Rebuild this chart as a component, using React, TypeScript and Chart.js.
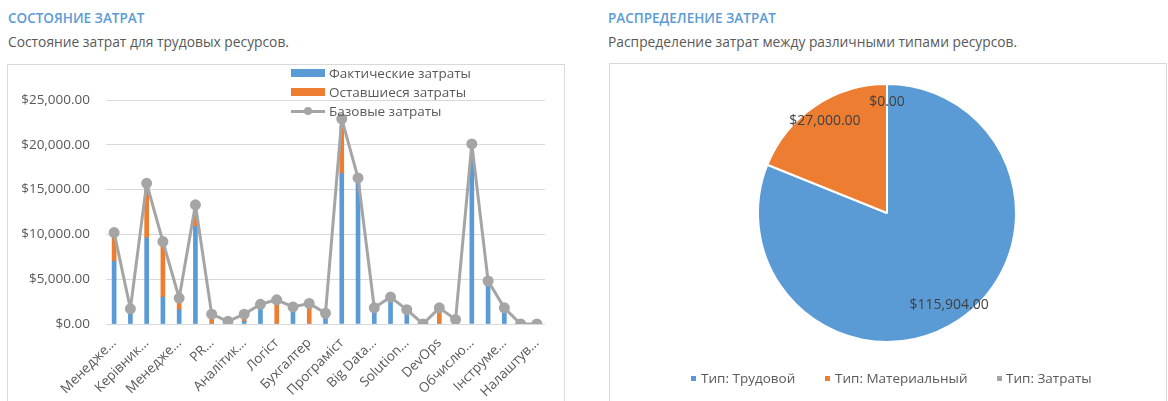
import React, { useEffect, useRef } from "react";
import { Chart, registerables } from "chart.js";

Chart.register(...registerables);

// ---------- data ----------
const categories = [
  "Менеджер проєкту", "Архітектор", "Керівник команди", "Тестувальник", "Менеджер продукту",
  "Дизайнер", "PR-менеджер", "Маркетолог", "Аналітик даних", "Юрист", "Логіст", "Рекрутер",
  "Бухгалтер", "Адміністратор", "Програміст", "Розробник", "Big Data інженер", "QA інженер",
  "Solution архітектор", "Системний адміністратор", "DevOps", "Технічний письменник",
  "Обчислювальні ресурси", "Сервери", "Інструменти", "Ліцензії", "Налаштування",
];
const tickLabels = [
  "Менедже...", "", "Керівник...", "", "Менедже...", "", "PR...", "", "Аналітик...", "",
  "Логіст", "", "Бухгалтер", "", "Програміст", "", "Big Data...", "", "Solution...", "",
  "DevOps", "", "Обчислю...", "", "Інструме...", "", "Налаштув...",
];
const actualCosts = [
  7000, 1600, 9600, 3000, 1600, 10900, 0, 0, 300, 1800, 0, 1500, 0, 800,
  16800, 16000, 1500, 2600, 1100, 0, 0, 0, 18500, 4500, 1500, 0, 0,
];
const remainingCosts = [
  3000, 0, 5800, 6000, 1100, 2200, 800, 0, 400, 0, 2300, 0, 1900, 0,
  5300, 0, 0, 0, 0, 0, 1300, 300, 0, 0, 0, 0, 0,
];
const baselineCosts = [
  10200, 1700, 15700, 9200, 2900, 13300, 1100, 300, 1100, 2200, 2700, 1900, 2300, 1200,
  22900, 16300, 1800, 3000, 1600, 0, 1800, 500, 20100, 4800, 1800, 0, 0,
];
const seriesNames = ["Фактические затраты", "Оставшиеся затраты", "Базовые затраты"];

const pieLabels = ["Тип: Трудовой", "Тип: Материальный", "Тип: Затраты"];
const pieValues = [115904, 27000, 0];

// ---------- styles ----------
const BLUE = "#5B9BD5";
const ORANGE = "#ED7D31";
const GRAY = "#A5A5A5";
const TEXT = "#595959";
const FONT = "'Open Sans', 'Noto Sans', sans-serif";

const money = (v: number) =>
  "$" + Number(v).toLocaleString("en-US", { minimumFractionDigits: 2, maximumFractionDigits: 2 });

const pieLabelPlugin = {
  id: "pieLabels",
  afterDatasetsDraw(chart: any) {
    const ctx = chart.ctx;
    const meta = chart.getDatasetMeta(0);
    const data = chart.data.datasets[0].data as number[];
    ctx.save();
    ctx.font = `14px ${FONT}`;
    ctx.fillStyle = "#404040";
    ctx.textAlign = "center";
    ctx.textBaseline = "middle";
    meta.data.forEach((arc: any, i: number) => {
      const p = arc.getProps(["x", "y", "startAngle", "endAngle", "outerRadius"], true);
      const mid = (p.startAngle + p.endAngle) / 2;
      const r = p.outerRadius * 0.86;
      ctx.fillText(money(data[i]), p.x + Math.cos(mid) * r, p.y + Math.sin(mid) * r);
    });
    ctx.restore();
  },
};

export default function App() {
  const barRef = useRef<HTMLCanvasElement | null>(null);
  const pieRef = useRef<HTMLCanvasElement | null>(null);

  useEffect(() => {
    const bar = new Chart(barRef.current as HTMLCanvasElement, {
      type: "bar",
      data: {
        labels: categories,
        datasets: [
          {
            type: "line",
            label: seriesNames[2],
            data: baselineCosts,
            borderColor: GRAY,
            backgroundColor: GRAY,
            borderWidth: 3,
            borderJoinStyle: "round",
            borderCapStyle: "round",
            pointRadius: 4,
            pointBackgroundColor: GRAY,
            pointBorderColor: GRAY,
            tension: 0,
            order: 0,
            stack: "base",
          } as any,
          {
            type: "bar",
            label: seriesNames[0],
            data: actualCosts,
            backgroundColor: BLUE,
            barThickness: 4,
            order: 1,
            stack: "costs",
          },
          {
            type: "bar",
            label: seriesNames[1],
            data: remainingCosts,
            backgroundColor: ORANGE,
            barThickness: 4,
            order: 1,
            stack: "costs",
          },
        ],
      },
      options: {
        animation: false,
        responsive: false,
        maintainAspectRatio: false,
        layout: { padding: { top: 35, right: 19, left: 0, bottom: 0 } },
        plugins: { legend: { display: false }, tooltip: { enabled: false } },
        scales: {
          x: {
            stacked: true,
            grid: { display: false },
            border: { display: false },
            ticks: {
              autoSkip: false,
              maxRotation: 45,
              minRotation: 45,
              padding: 3,
              color: TEXT,
              font: { family: FONT, size: 13.5 },
              callback: (_v: any, i: number) => tickLabels[i],
            },
            afterFit: (s: any) => {
              s.height = 77;
            },
          },
          y: {
            stacked: true,
            min: 0,
            max: 25000,
            ticks: {
              stepSize: 5000,
              padding: 16,
              color: TEXT,
              font: { family: FONT, size: 13.5 },
              callback: (v: any) => money(v),
            },
            grid: { color: "#D9D9D9", drawTicks: false },
            border: { display: false },
            afterFit: (s: any) => {
              s.width = 98;
            },
          },
        },
      } as any,
    });

    const pie = new Chart(pieRef.current as HTMLCanvasElement, {
      type: "pie",
      data: {
        labels: pieLabels,
        datasets: [
          {
            data: pieValues,
            backgroundColor: [BLUE, ORANGE, GRAY],
            borderColor: "#FFFFFF",
            borderWidth: 2,
          },
        ],
      },
      options: {
        animation: false,
        responsive: false,
        maintainAspectRatio: false,
        layout: { padding: { top: 19, bottom: 58, left: 147, right: 149 } },
        plugins: { legend: { display: false }, tooltip: { enabled: false } },
      } as any,
      plugins: [pieLabelPlugin],
    });

    return () => {
      bar.destroy();
      pie.destroy();
    };
  }, []);

  const abs = (o: React.CSSProperties): React.CSSProperties => ({ position: "absolute", ...o });
  const titleStyle: React.CSSProperties = {
    fontFamily: FONT,
    fontSize: 13.5,
    fontWeight: 600,
    color: BLUE,
    lineHeight: "20px",
    whiteSpace: "nowrap",
  };
  const subStyle: React.CSSProperties = {
    fontFamily: FONT,
    fontSize: 13.8,
    color: TEXT,
    lineHeight: "20px",
    whiteSpace: "nowrap",
  };
  const legText: React.CSSProperties = {
    fontFamily: FONT,
    fontSize: 13.5,
    color: TEXT,
    lineHeight: "18px",
    whiteSpace: "nowrap",
  };

  return (
    <div
      style={{
        position: "fixed",
        left: 0,
        top: 0,
        width: 1168,
        height: 401,
        overflow: "hidden",
        background: "#FFFFFF",
      }}
    >
      {/* left panel */}
      <div style={abs({ left: 8, top: 8, ...titleStyle })}>СОСТОЯНИЕ ЗАТРАТ</div>
      <div style={abs({ left: 8, top: 32, ...subStyle })}>Состояние затрат для трудовых ресурсов.</div>
      <div style={abs({ left: 7, top: 64, width: 556, height: 360, border: "1px solid #D9D9D9" })} />
      <canvas ref={barRef} width={556} height={336} style={abs({ left: 8, top: 65, width: 556, height: 336 })} />
      {/* bar legend */}
      <div style={abs({ left: 291, top: 69, width: 34, height: 8, background: BLUE })} />
      <div style={abs({ left: 329, top: 64, ...legText })}>{seriesNames[0]}</div>
      <div style={abs({ left: 291, top: 88, width: 34, height: 8, background: ORANGE })} />
      <div style={abs({ left: 329, top: 83, ...legText })}>{seriesNames[1]}</div>
      <div style={abs({ left: 291, top: 110, width: 34, height: 3, background: GRAY })} />
      <div style={abs({ left: 304, top: 107, width: 8, height: 8, borderRadius: 4, background: GRAY })} />
      <div style={abs({ left: 329, top: 102, ...legText })}>{seriesNames[2]}</div>

      {/* right panel */}
      <div style={abs({ left: 608, top: 8, ...titleStyle })}>РАСПРЕДЕЛЕНИЕ ЗАТРАТ</div>
      <div style={abs({ left: 608, top: 32, ...subStyle })}>
        Распределение затрат между различными типами ресурсов.
      </div>
      <div style={abs({ left: 609, top: 63, width: 556, height: 360, border: "1px solid #D9D9D9" })} />
      <canvas ref={pieRef} width={556} height={337} style={abs({ left: 610, top: 64, width: 556, height: 337 })} />
      {/* pie legend */}
      <div style={abs({ left: 691, top: 376, width: 5, height: 5, background: BLUE })} />
      <div style={abs({ left: 701, top: 369, ...legText })}>{pieLabels[0]}</div>
      <div style={abs({ left: 825, top: 376, width: 5, height: 5, background: ORANGE })} />
      <div style={abs({ left: 835, top: 369, ...legText })}>{pieLabels[1]}</div>
      <div style={abs({ left: 997, top: 376, width: 5, height: 5, background: GRAY })} />
      <div style={abs({ left: 1006, top: 369, ...legText })}>{pieLabels[2]}</div>
    </div>
  );
}
